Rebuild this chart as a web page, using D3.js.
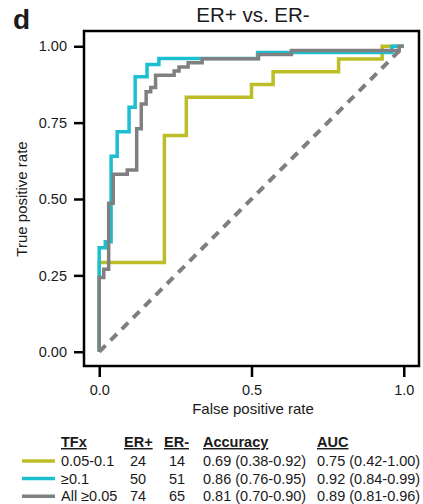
<!DOCTYPE html>
<html>
<head>
<meta charset="utf-8">
<script src="https://cdn.jsdelivr.net/npm/d3@7"></script>
<style>
	body { margin: 0; background: #fff; }
	text { font-family: 'Liberation Sans', Arial, sans-serif; fill: #1a1a1a; }
</style>
</head>
<body>
<svg width="423" height="504"></svg>
<script>
// ROC points (corner after each step), drawn with curveStepBefore
const lowFpr = [0, 0.214, 0.286, 0.5, 0.571, 0.786, 0.929, 1]
const lowTpr = [0, 0.292, 0.708, 0.833, 0.875, 0.917, 0.958, 1]

const highFpr = [0, 0.02, 0.039, 0.059, 0.098, 0.118, 0.157, 0.196, 0.52, 0.961, 1]
const highTpr = [0, 0.34, 0.36, 0.64, 0.72, 0.80, 0.90, 0.94, 0.96, 0.98, 1]

const allFpr = [0, 0.015, 0.031, 0.046, 0.092, 0.123, 0.138, 0.154, 0.169, 0.185, 0.246, 0.262, 0.292, 0.338, 0.523, 0.631, 0.985, 1]
const allTpr = [0, 0.243, 0.27, 0.486, 0.581, 0.595, 0.73, 0.811, 0.851, 0.865, 0.905, 0.919, 0.932, 0.946, 0.959, 0.973, 0.986, 1]

const xTicks = [0, 0.5, 1]
const yTicks = [0, 0.25, 0.5, 0.75, 1]

const groupNames = ['0.05-0.1', '≥0.1', 'All ≥0.05']
const erPos = [24, 50, 74]
const erNeg = [14, 51, 65]
const accuracy = ['0.69 (0.38-0.92)', '0.86 (0.76-0.95)', '0.81 (0.70-0.90)']
const auc = ['0.75 (0.42-1.00)', '0.92 (0.84-0.99)', '0.89 (0.81-0.96)']
const headers = ['TFx', 'ER+', 'ER-', 'Accuracy', 'AUC']

const colors = ['#bdbe27', '#1bbfd0', '#808080']

const svg = d3.select('svg')

let xScale = d3.scaleLinear().domain([-0.05, 1.05]).range([84, 419])
let yScale = d3.scaleLinear().domain([-0.05, 1.05]).range([367, 31])

// title + panel letter
svg.append('text')
	.attr('x', 13).attr('y', 29)
	.style('font-size', '28px').style('font-weight', 'bold')
	.text('d')
svg.append('text')
	.attr('x', 253).attr('y', 22)
	.attr('text-anchor', 'middle')
	.style('font-size', '20.5px')
	.text('ER+ vs. ER-')

// axes
let leftAxis = d3.axisLeft(yScale).tickValues(yTicks).tickFormat(d3.format('.2f')).tickSize(10).tickPadding(7)
let bottomAxis = d3.axisBottom(xScale).tickValues(xTicks).tickFormat(d3.format('.1f')).tickSize(10).tickPadding(8)

let leftAxisG = svg.append('g').attr('transform', 'translate(84, 0)').call(leftAxis)
let bottomAxisG = svg.append('g').attr('transform', 'translate(0, 367)').call(bottomAxis)

for (let g of [leftAxisG, bottomAxisG]) {
	g.select('.domain').remove()
	g.selectAll('line').attr('stroke', '#000').attr('stroke-width', 2.5)
	g.selectAll('text').style('font-size', '14.5px').style('font-family', "'Liberation Sans', Arial, sans-serif").attr('fill', '#1a1a1a')
}

svg.append('text')
	.attr('x', 253).attr('y', 414)
	.attr('text-anchor', 'middle')
	.style('font-size', '15px')
	.text('False positive rate')
svg.append('text')
	.attr('transform', 'translate(27, 199) rotate(-90)')
	.attr('text-anchor', 'middle')
	.style('font-size', '15px')
	.text('True positive rate')

// chance line
svg.append('line')
	.attr('x1', xScale(0)).attr('y1', yScale(0))
	.attr('x2', xScale(1)).attr('y2', yScale(1))
	.attr('stroke', '#7f7f7f')
	.attr('stroke-width', 4)
	.attr('stroke-dasharray', '9,7')

// ROC curves
let rocLine = d3.line()
	.x(d => xScale(d[0]))
	.y(d => yScale(d[1]))
	.curve(d3.curveStepBefore)

let series = [
	d3.zip(lowFpr, lowTpr),
	d3.zip(highFpr, highTpr),
	d3.zip(allFpr, allTpr)
]

svg.append('g').selectAll('path')
	.data(series)
	.enter()
	.append('path')
	.attr('d', d => rocLine(d))
	.attr('fill', 'none')
	.attr('stroke', (d, i) => colors[i])
	.attr('stroke-width', 3.5)

// frame
svg.append('rect')
	.attr('x', 84).attr('y', 31)
	.attr('width', 335).attr('height', 335)
	.attr('fill', 'none')
	.attr('stroke', '#000')
	.attr('stroke-width', 2.5)

// legend table
let colX = [61, 124, 164, 203, 317]
let valX = [61, 130, 169, 203, 317]

svg.append('g').selectAll('text')
	.data(headers)
	.enter()
	.append('text')
	.attr('x', (d, i) => colX[i])
	.attr('y', 447)
	.style('font-size', '14.5px')
	.style('font-weight', 'bold')
	.style('text-decoration', 'underline')
	.text(d => d)

let rows = svg.append('g').selectAll('g')
	.data(groupNames)
	.enter()
	.append('g')
	.attr('transform', (d, i) => `translate(0, ${466 + i * 17.6})`)

rows.append('line')
	.attr('x1', 22).attr('x2', 55)
	.attr('y1', -5).attr('y2', -5)
	.attr('stroke', (d, i) => colors[i])
	.attr('stroke-width', 3.5)

rows.each(function (d, i) {
	let cells = [groupNames[i], erPos[i], erNeg[i], accuracy[i], auc[i]]
	d3.select(this).selectAll('text')
		.data(cells)
		.enter()
		.append('text')
		.attr('x', (c, j) => valX[j])
		.attr('y', 0)
		.style('font-size', '14.5px')
		.text(c => c)
})
</script>
</body>
</html>
